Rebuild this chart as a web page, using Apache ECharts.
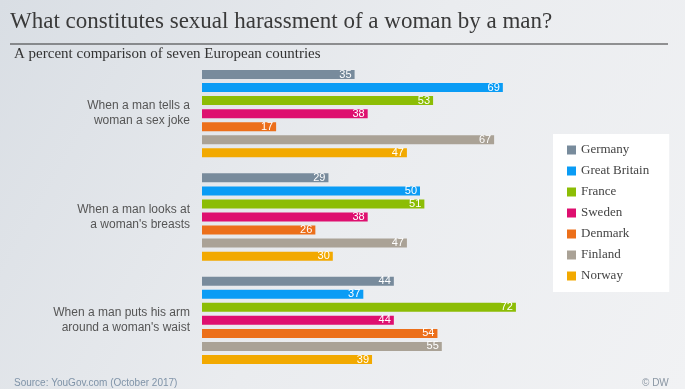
<!DOCTYPE html>
<html><head><meta charset="utf-8">
<script src="https://cdn.jsdelivr.net/npm/echarts@6/dist/echarts.min.js"></script>
<style>html,body{margin:0;padding:0;}#c{width:685px;height:389px;}</style>
</head><body><div id="c"></div>
<script>
const categories = ["When a man tells a\nwoman a sex joke", "When a man looks at\na woman's breasts", "When a man puts his arm\naround a woman's waist"];
const countries = ["Germany", "Great Britain", "France", "Sweden", "Denmark", "Finland", "Norway"];
const germany = [35, 29, 44];
const greatBritain = [69, 50, 37];
const france = [53, 51, 72];
const sweden = [38, 38, 44];
const denmark = [17, 26, 54];
const finland = [67, 47, 55];
const norway = [47, 30, 39];
const colors = ["#788b9c", "#0a9cf5", "#8cbd05", "#de0f6f", "#ec6f1a", "#aaa296", "#f2a900"];
const values = [germany, greatBritain, france, sweden, denmark, finland, norway];

const chart = echarts.init(document.getElementById('c'));
chart.setOption({
  backgroundColor: new echarts.graphic.LinearGradient(0, 0, 1, 1, [
    {offset: 0, color: '#d9dee4'}, {offset: 0.5, color: '#eaecef'}, {offset: 1, color: '#f1f2f4'}
  ]),
  animation: false,
  title: [{
    text: 'What constitutes sexual harassment of a woman by a man?',
    left: 5, top: 5,
    textStyle: {fontFamily: 'Liberation Serif', fontSize: 23, fontWeight: 'normal', color: '#3a3a3a'}
  }, {
    text: 'A percent comparison of seven European countries',
    left: 9, top: 42,
    textStyle: {fontFamily: 'Liberation Serif', fontSize: 15, fontWeight: 'normal', color: '#333'}
  }],
  legend: {
    data: countries,
    orient: 'vertical',
    left: 553, top: 134,
    backgroundColor: '#ffffff',
    padding: [9, 20, 9, 14],
    icon: 'rect', itemWidth: 9, itemHeight: 9, itemGap: 7,
    textStyle: {fontFamily: 'Liberation Serif', fontSize: 13, color: '#444', lineHeight: 14}
  },
  grid: {left: 202, top: 62, height: 310, width: 436},
  xAxis: {type: 'value', min: 0, max: 100, show: false},
  yAxis: {
    type: 'category', data: categories, inverse: true,
    axisLine: {show: false}, axisTick: {show: false},
    axisLabel: {margin: 12, fontFamily: 'Arial, Liberation Sans', fontSize: 12, color: '#555', lineHeight: 15, align: 'right'}
  },
  series: countries.map((name, i) => ({
    name: name, type: 'bar', data: values[i],
    barWidth: 9, barGap: '45%', barCategoryGap: '16%',
    itemStyle: {color: colors[i]},
    label: {show: true, position: 'insideRight', distance: 3, color: '#fff', fontSize: 11, fontFamily: 'Liberation Sans Narrow, Arial'}
  })),
  graphic: [
    {type: 'line', shape: {x1: 10, y1: 44, x2: 668, y2: 44}, style: {stroke: '#333', lineWidth: 1.2}},
    {type: 'text', left: 14, top: 378, style: {text: 'Source: YouGov.com (October 2017)', fill: '#7f93a8', font: '10px Arial, Liberation Sans'}},
    {type: 'text', left: 642, top: 378, style: {text: '© DW', fill: '#8a96a3', font: '10px Arial, Liberation Sans'}}
  ]
});
</script></body></html>
